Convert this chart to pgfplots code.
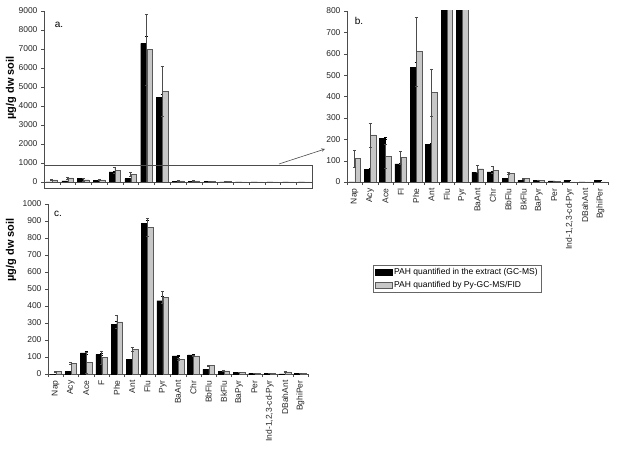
\documentclass[border=0pt]{standalone}
\usepackage{fontspec}
\setmainfont{Liberation Sans}
\usepackage{pgfplots}
\pgfplotsset{compat=1.18}
\usepackage{pgfplotstable}

\pgfplotstableread{
x blk blke gry grye
0 0 0 110 40
1 60 5 220 55
2 205 5 120 55
3 85 3 115 30
4 535 25 610 160
5 175 8 420 110
6 7300 370 6970 1860
7 4470 140 4780 1330
8 45 3 62 16
9 47 5 56 16
10 17 2 40 5
11 8 1 16 2
12 9 1 9 1
13 5 1 2 0
14 8 1 0 0
15 0 0 0 0
16 8 1 0 0
}\dataab

\pgfplotstableread{
x blk blke gry grye
0 0 0 14 3
1 14 2 62 5
2 125 8 69 62
3 115 5 98 39
4 294 18 307 40
5 86 4 145 10
6 886 20 863 55
7 431 27 451 37
8 106 4 88 4
9 112 4 106 4
10 27 3 49 4
11 14 2 18 2
12 10 1 10 1
13 3 1 3 1
14 4 1 4 1
15 1 0 12 3
16 3 1 3 1
}\datac

\pgfplotsset{
  panel/.style={
    scale only axis, anchor=south west,
    xmin=-0.5, xmax=16.5, ymin=0, enlargelimits=false,
    axis x line*=bottom, axis y line*=left,
    axis line style={-, black!70},
    tick style={black!70},
    xtick={0,...,16},
    minor xtick={-0.5,0.5,...,16.5},
    major x tick style={opacity=0},
    tick align=outside,
    major tick length=3pt, minor tick length=3pt,
    ticklabel style={font=\fontsize{8.5}{9}\selectfont, text=black!85},
    /pgf/number format/assume math mode=true,
    /pgf/number format/1000 sep={},
    scaled y ticks=false,
    xticklabel style={rotate=90, anchor=east},
  },
  blkbar/.style={ybar, bar width=5.5pt, bar shift=-3pt, fill=black, draw=black,
    error bars/.cd, y dir=both, y explicit,
    error bar style={black, line width=0.5pt},
    error mark options={rotate=90, mark size=1.5pt, black}},
  grybar/.style={ybar, bar width=5.5pt, bar shift=3pt, fill=black!22, draw=black!65,
    error bars/.cd, y dir=both, y explicit,
    error bar style={black!70, line width=0.5pt},
    error mark options={rotate=90, mark size=1.5pt, black!70}},
}

\begin{document}
\begin{tikzpicture}
\useasboundingbox (0,0) rectangle (620pt,455pt);

% panel a
\begin{axis}[panel, at={(44pt,273pt)}, width=268pt, height=171pt,
  ymax=9000, ytick={0,1000,...,9000}, xticklabels={}]
  \addplot[blkbar] table[x=x, y=blk, y error=blke] {\dataab};
  \addplot[grybar] table[x=x, y=gry, y error=grye] {\dataab};
\end{axis}

% panel b
\begin{axis}[panel, at={(347pt,273pt)}, width=261pt, height=171pt,
  ymax=800, ytick={0,100,...,800},
  xticklabels={Nap,Acy,Ace,Fl,Phe,Ant,Flu,Pyr,BaAnt,Chr,BbFlu,BkFlu,BaPyr,Per,Ind-1,{2},{3}-cd-Pyr,DBahAnt,BghiPer},
  xticklabels={{Nap},{Acy},{Ace},{Fl},{Phe},{Ant},{Flu},{Pyr},{BaAnt},{Chr},{BbFlu},{BkFlu},{BaPyr},{Per},{Ind-1,2,3-cd-Pyr},{DBahAnt},{BghiPer}},
  area legend,
  legend style={at={(0.0996,-0.485)}, anchor=north west, draw=black!60,
    font=\fontsize{8.5}{9}\selectfont, legend cell align=left,
    row sep=1pt, inner sep=1.5pt},
  legend entries={PAH quantified in the extract (GC-MS), PAH quantified by Py-GC-MS/FID}]
  \addplot[blkbar] table[x=x, y=blk, y error=blke] {\dataab};
  \addplot[grybar] table[x=x, y=gry, y error=grye] {\dataab};
\end{axis}

% panel c
\begin{axis}[panel, at={(48pt,81pt)}, width=260pt, height=170pt,
  ymax=1000, ytick={0,100,...,1000},
  xticklabels={{Nap},{Acy},{Ace},{F},{Phe},{Ant},{Flu},{Pyr},{BaAnt},{Chr},{BbFlu},{BkFlu},{BaPyr},{Per},{Ind-1,2,3-cd-Pyr},{DBahAnt},{BghiPer}}]
  \addplot[blkbar] table[x=x, y=blk, y error=blke] {\datac};
  \addplot[grybar] table[x=x, y=gry, y error=grye] {\datac};
\end{axis}

% zoom frame and arrow
\draw[black!70, line width=0.6pt] (44pt,267pt) rectangle (312pt,290pt);
\draw[-stealth, black!70, line width=0.6pt] (279pt,291pt) -- (325pt,306pt);

% panel letters
\node[font=\fontsize{10}{11}\selectfont] at (59pt,430pt) {a.};
\node[font=\fontsize{10}{11}\selectfont] at (359pt,434pt) {b.};
\node[font=\fontsize{10}{11}\selectfont] at (58pt,241pt) {c.};

% y labels
\node[rotate=90, font=\bfseries\fontsize{11}{12}\selectfont] at (11pt,367pt) {µg/g dw soil};
\node[rotate=90, font=\bfseries\fontsize{11}{12}\selectfont] at (11pt,205pt) {µg/g dw soil};
\end{tikzpicture}
\end{document}
